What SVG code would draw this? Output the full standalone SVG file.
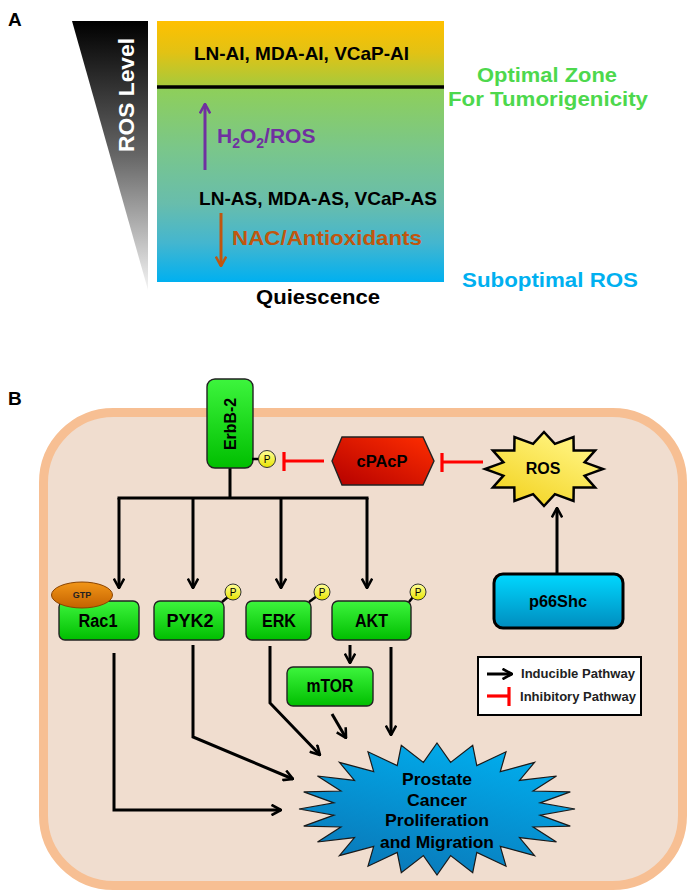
<svg xmlns="http://www.w3.org/2000/svg" width="694" height="896" viewBox="0 0 694 896">
<defs>
<style>
text{font-family:"Liberation Sans",Arial,sans-serif;font-weight:bold;}
.lbl{font-size:19px;fill:#000;}
.node{stroke:#222;stroke-width:1.4;}
.green{fill:url(#gGreen);}
.ntxt{font-size:18px;text-anchor:middle;fill:#000;}
.pc{fill:url(#gP);stroke:#333;stroke-width:1;}
.ptxt{font-size:10px;text-anchor:middle;fill:#000;font-weight:normal;}
.pl{stroke:#000;stroke-width:2.5;}
.conn{fill:none;stroke:#000;stroke-width:3;}
.arr{marker-end:url(#ah);}
.inh{stroke:#FF0000;stroke-width:3.2;fill:none;}
</style>
<linearGradient id="gBox" x1="0" y1="21" x2="0" y2="282" gradientUnits="userSpaceOnUse">
<stop offset="0" stop-color="#FFC000"/>
<stop offset="0.12" stop-color="#E2C214"/>
<stop offset="0.25" stop-color="#A6CA3C"/>
<stop offset="0.26" stop-color="#8ECF5A"/>
<stop offset="0.5" stop-color="#79C68C"/>
<stop offset="0.7" stop-color="#68BDAC"/>
<stop offset="0.85" stop-color="#44B6CF"/>
<stop offset="1" stop-color="#00B0F0"/>
</linearGradient>
<linearGradient id="gTri" x1="0" y1="21" x2="0" y2="290" gradientUnits="userSpaceOnUse">
<stop offset="0" stop-color="#000"/>
<stop offset="0.5" stop-color="#666"/>
<stop offset="1" stop-color="#F4F4F4"/>
</linearGradient>
<linearGradient id="gGreen" x1="0" y1="0" x2="0" y2="1">
<stop offset="0" stop-color="#3DF53D"/>
<stop offset="1" stop-color="#00BE00"/>
</linearGradient>
<linearGradient id="gP" x1="0" y1="0" x2="0" y2="1">
<stop offset="0" stop-color="#FFFF9A"/>
<stop offset="1" stop-color="#E8E400"/>
</linearGradient>
<linearGradient id="gRed" x1="1" y1="0" x2="0" y2="1">
<stop offset="0" stop-color="#FF2E00"/>
<stop offset="1" stop-color="#B40000"/>
</linearGradient>
<linearGradient id="gRos" x1="0.8" y1="0.2" x2="0.2" y2="1">
<stop offset="0" stop-color="#FFF27A"/>
<stop offset="1" stop-color="#F2D21E"/>
</linearGradient>
<linearGradient id="gBlue" x1="0" y1="0" x2="0" y2="1">
<stop offset="0" stop-color="#00D8FF"/>
<stop offset="1" stop-color="#008CBE"/>
</linearGradient>
<linearGradient id="gBurst" x1="0.8" y1="0" x2="0.3" y2="1">
<stop offset="0" stop-color="#00B0F0"/>
<stop offset="1" stop-color="#0A78B8"/>
</linearGradient>
<linearGradient id="gGtp" x1="0" y1="0" x2="0" y2="1">
<stop offset="0" stop-color="#F29618"/>
<stop offset="1" stop-color="#C46200"/>
</linearGradient>
<marker id="ah" viewBox="0 0 12 12" refX="11" refY="6" markerWidth="12" markerHeight="12" markerUnits="userSpaceOnUse" orient="auto">
<path d="M1.5,0.8 L11,6 L1.5,11.2" fill="none" stroke="#000" stroke-width="2.6"/>
</marker>
<marker id="ahP" viewBox="0 0 12 12" refX="11" refY="6" markerWidth="12" markerHeight="12" markerUnits="userSpaceOnUse" orient="auto">
<path d="M1.5,0.8 L11,6 L1.5,11.2" fill="none" stroke="#7030A0" stroke-width="2.6"/>
</marker>
<marker id="ahB" viewBox="0 0 12 12" refX="11" refY="6" markerWidth="12" markerHeight="12" markerUnits="userSpaceOnUse" orient="auto">
<path d="M1.5,0.8 L11,6 L1.5,11.2" fill="none" stroke="#C0560F" stroke-width="2.6"/>
</marker>
</defs>

<rect width="694" height="896" fill="#FFFFFF"/>

<!-- Panel A -->
<g id="panelA">
<text class="lbl" x="8" y="26">A</text>
<polygon points="72,21 148,21 148,290" fill="url(#gTri)"/>
<text transform="translate(134,95) rotate(-90)" text-anchor="middle" font-size="22" fill="#FFFFFF" textLength="114" lengthAdjust="spacingAndGlyphs">ROS Level</text>
<rect x="157" y="21" width="287" height="261" fill="url(#gBox)"/>
<line x1="157" y1="87" x2="444" y2="87" stroke="#000" stroke-width="3.5"/>
<text x="301.5" y="60" text-anchor="middle" font-size="18.5" fill="#000" textLength="215" lengthAdjust="spacingAndGlyphs">LN-AI, MDA-AI, VCaP-AI</text>
<line x1="205" y1="170" x2="205" y2="104" stroke="#7030A0" stroke-width="3" marker-end="url(#ahP)"/>
<text x="217" y="143" font-size="21" fill="#7030A0">H<tspan font-size="14" dy="5">2</tspan><tspan dy="-5">O</tspan><tspan font-size="14" dy="5">2</tspan><tspan dy="-5">/ROS</tspan></text>
<text x="318" y="205" text-anchor="middle" font-size="18.5" fill="#000" textLength="238" lengthAdjust="spacingAndGlyphs">LN-AS, MDA-AS, VCaP-AS</text>
<line x1="221" y1="213" x2="221" y2="266" stroke="#C0560F" stroke-width="3" marker-end="url(#ahB)"/>
<text x="232" y="245" font-size="21" fill="#C0560F" textLength="190" lengthAdjust="spacingAndGlyphs">NAC/Antioxidants</text>
<text x="547" y="82" text-anchor="middle" font-size="21" fill="#4DD84D" textLength="140" lengthAdjust="spacingAndGlyphs">Optimal Zone</text>
<text x="548" y="106" text-anchor="middle" font-size="21" fill="#4DD84D" textLength="200" lengthAdjust="spacingAndGlyphs">For Tumorigenicity</text>
<text x="550" y="287" text-anchor="middle" font-size="21" fill="#00B0F0" textLength="176" lengthAdjust="spacingAndGlyphs">Suboptimal ROS</text>
<text x="318" y="304" text-anchor="middle" font-size="20" fill="#000" textLength="124" lengthAdjust="spacingAndGlyphs">Quiescence</text>
</g>

<!-- Panel B -->
<text class="lbl" x="8" y="405">B</text>
<rect id="cell" x="43.5" y="412.5" width="639" height="473" rx="70" ry="70" fill="#F0DDCF" stroke="#F7BF93" stroke-width="9"/>

<!-- connectors -->
<g id="connectors">
<line class="conn" x1="230" y1="468" x2="230" y2="498"/>
<line class="conn" x1="117.5" y1="498" x2="368.5" y2="498"/>
<line class="conn arr" x1="119" y1="498" x2="119" y2="588"/>
<line class="conn arr" x1="193" y1="498" x2="193" y2="588"/>
<line class="conn arr" x1="281" y1="498" x2="281" y2="588"/>
<line class="conn arr" x1="367" y1="498" x2="367" y2="588"/>
<line class="conn arr" x1="557" y1="573" x2="557" y2="508"/>
<polyline class="conn arr" points="114,653 114,810 281,810"/>
<polyline class="conn arr" points="193,645 193,737 293,779"/>
<polyline class="conn arr" points="270,646 270,703 320,755"/>
<line class="conn arr" x1="332" y1="714" x2="346" y2="738"/>
<line class="conn arr" x1="350" y1="645" x2="350" y2="663"/>
<line class="conn arr" x1="391" y1="647" x2="391" y2="735"/>
<line class="inh" x1="324" y1="461" x2="284" y2="461"/>
<line class="inh" x1="284" y1="452" x2="284" y2="471"/>
<line class="inh" x1="483" y1="462" x2="442" y2="462"/>
<line class="inh" x1="442" y1="453" x2="442" y2="472"/>
</g>

<!-- nodes -->
<g id="erbb2">
<rect class="node green" x="207" y="379" width="46" height="89" rx="8"/>
<text transform="translate(236,424) rotate(-90)" text-anchor="middle" font-size="17" fill="#000" textLength="52" lengthAdjust="spacingAndGlyphs">ErbB-2</text>
<line class="pl" x1="252" y1="459" x2="259" y2="459"/>
<circle class="pc" cx="267" cy="459" r="8.5"/>
<text class="ptxt" x="267" y="463">P</text>
</g>

<g id="cpacp">
<polygon class="node" points="332,461 342,437 423,437 434,461 423,485 342,485" fill="url(#gRed)"/>
<text x="382" y="467" text-anchor="middle" font-size="16" fill="#000" textLength="51" lengthAdjust="spacingAndGlyphs">cPAcP</text>
</g>

<g id="ros">
<polygon points="544,432 554.9,443.9 573.5,437 573.7,450.6 595.1,450.5 584.6,462.3 603,469 584.6,475.7 595.1,487.5 573.7,487.4 573.5,501 554.9,494.1 544,506 533.1,494.1 514.5,501 514.3,487.4 492.9,487.5 503.4,475.7 485,469 503.4,462.3 492.9,450.5 514.3,450.6 514.5,437 533.1,443.9" fill="url(#gRos)" stroke="#000" stroke-width="2.5" stroke-linejoin="miter"/>
<text x="543" y="474" text-anchor="middle" font-size="16" fill="#000">ROS</text>
</g>

<g id="p66shc">
<rect x="494" y="574" width="129" height="54" rx="9" fill="url(#gBlue)" stroke="#000" stroke-width="3"/>
<text x="558" y="607" text-anchor="middle" font-size="17" fill="#000" textLength="58" lengthAdjust="spacingAndGlyphs">p66Shc</text>
</g>

<g id="rac1">
<rect class="node green" x="59" y="601" width="80" height="39" rx="6"/>
<text class="ntxt" x="98" y="627" textLength="39" lengthAdjust="spacingAndGlyphs">Rac1</text>
<ellipse cx="82" cy="595" rx="30.5" ry="13" fill="url(#gGtp)" stroke="#8A4300" stroke-width="1"/>
<text x="82" y="598" text-anchor="middle" font-size="9" fill="#222" font-weight="normal">GTP</text>
</g>

<g id="pyk2">
<rect class="node green" x="154" y="601" width="70" height="39" rx="6"/>
<text class="ntxt" x="190" y="627" textLength="47" lengthAdjust="spacingAndGlyphs">PYK2</text>
<line class="pl" x1="222" y1="602" x2="229" y2="596"/>
<circle class="pc" cx="233" cy="592" r="8"/>
<text class="ptxt" x="233" y="596">P</text>
</g>

<g id="erk">
<rect class="node green" x="246" y="601" width="65" height="39" rx="6"/>
<text class="ntxt" x="279" y="627" textLength="34" lengthAdjust="spacingAndGlyphs">ERK</text>
<line class="pl" x1="309" y1="602" x2="317" y2="596"/>
<circle class="pc" cx="322" cy="592" r="8"/>
<text class="ptxt" x="322" y="596">P</text>
</g>

<g id="akt">
<rect class="node green" x="332" y="601" width="79" height="39" rx="6"/>
<text class="ntxt" x="371.5" y="627" textLength="33" lengthAdjust="spacingAndGlyphs">AKT</text>
<line class="pl" x1="409" y1="602" x2="413" y2="597"/>
<circle class="pc" cx="418" cy="592" r="8"/>
<text class="ptxt" x="418" y="596">P</text>
</g>

<g id="mtor">
<rect class="node green" x="287" y="667" width="86" height="39" rx="6"/>
<text class="ntxt" x="330" y="692" textLength="47" lengthAdjust="spacingAndGlyphs">mTOR</text>
</g>

<g id="prostate">
<polygon points="437,743 450.6,762.4 472.7,745.3 476.8,765.6 506,751.8 500.3,771.7 534.6,762.3 519.5,780.4 556.5,776 533.1,791 570.3,791.9 540.1,802.9 575,809 540.1,815.1 570.3,826.1 533.1,827 556.5,842 519.5,837.6 534.6,855.7 500.3,846.3 506,866.2 476.8,852.4 472.7,872.7 450.6,855.6 437,875 423.4,855.6 401.3,872.7 397.2,852.4 368,866.2 373.7,846.3 339.4,855.7 354.5,837.6 317.5,842 340.9,827 303.7,826.1 333.9,815.1 299,809 333.9,802.9 303.7,791.9 340.9,791 317.5,776 354.5,780.4 339.4,762.3 373.7,771.7 368,751.8 397.2,765.6 401.3,745.3 423.4,762.4" fill="url(#gBurst)" stroke="#1a1a1a" stroke-width="1.2"/>
<text x="437" y="785" text-anchor="middle" font-size="17" fill="#000" textLength="70" lengthAdjust="spacingAndGlyphs">Prostate</text>
<text x="437" y="806" text-anchor="middle" font-size="17" fill="#000" textLength="60" lengthAdjust="spacingAndGlyphs">Cancer</text>
<text x="437" y="826" text-anchor="middle" font-size="17" fill="#000" textLength="104" lengthAdjust="spacingAndGlyphs">Proliferation</text>
<text x="437" y="848" text-anchor="middle" font-size="17" fill="#000" textLength="114" lengthAdjust="spacingAndGlyphs">and Migration</text>
</g>

<g id="legend">
<rect x="478" y="657" width="163" height="58" fill="#FFFFFF" stroke="#000" stroke-width="2"/>
<line class="conn arr" x1="487" y1="674" x2="512" y2="674"/>
<text x="521" y="678" font-size="13" fill="#222" textLength="114" lengthAdjust="spacingAndGlyphs">Inducible Pathway</text>
<line class="inh" x1="487" y1="696" x2="509" y2="696"/>
<line class="inh" x1="509" y1="687" x2="509" y2="706"/>
<text x="520" y="701" font-size="13" fill="#222" textLength="116" lengthAdjust="spacingAndGlyphs">Inhibitory Pathway</text>
</g>
</svg>
